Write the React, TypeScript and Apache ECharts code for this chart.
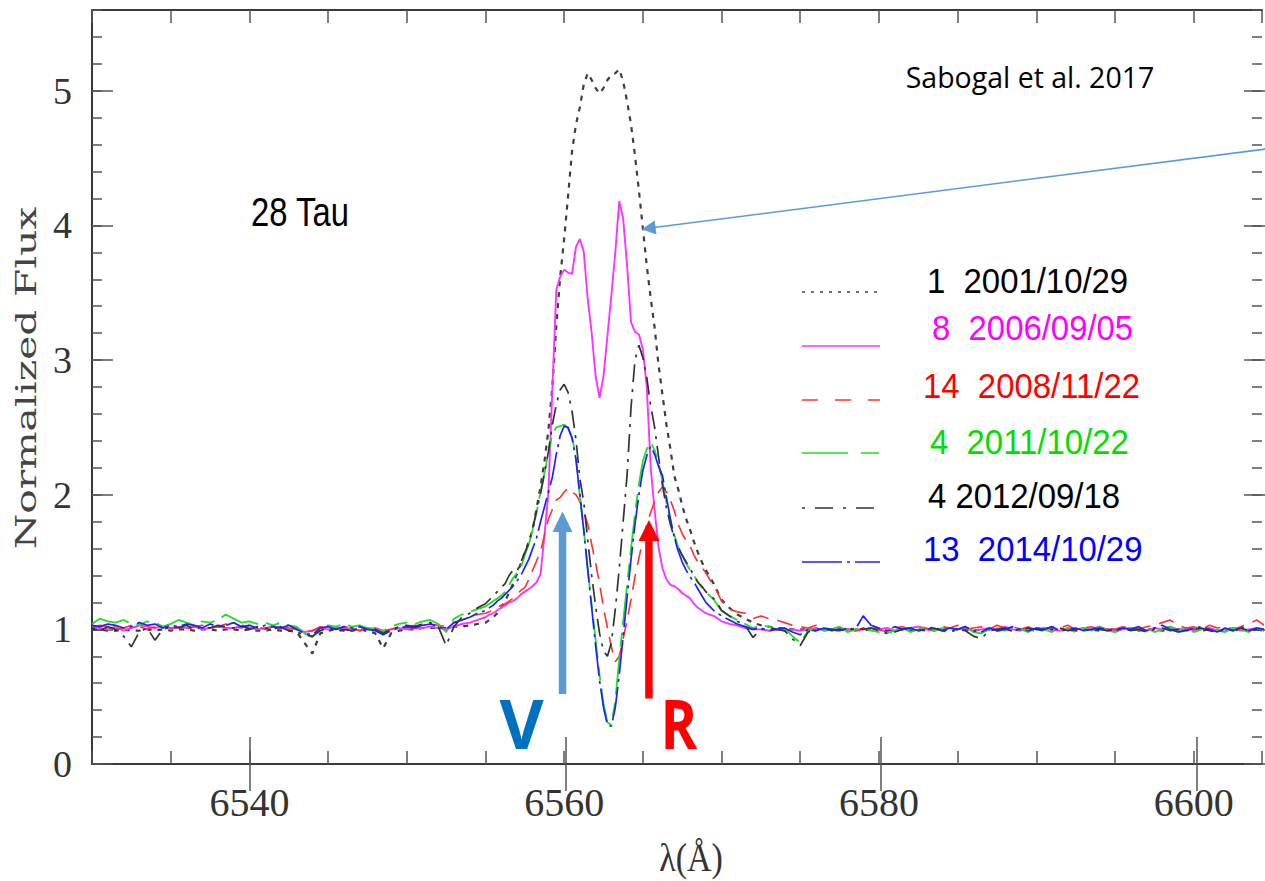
import React, { useEffect, useRef } from "react";
import * as echarts from "echarts";

// Wavelength sampling (Å): blue continuum, H-alpha core, red continuum
function sampleGrid(start: number, end: number, step: number): number[] {
  const n = Math.round((end - start) / step);
  return Array.from({ length: n + 1 }, (_, i) => +(start + i * step).toFixed(2));
}
const wavelengths: number[] = [
  ...sampleGrid(6530, 6554.5, 0.5), // 50 samples
  ...sampleGrid(6555, 6570, 0.25), // 61 samples
  ...sampleGrid(6570.5, 6604.5, 0.5), // 69 samples
];

// Normalized flux, one value per wavelength sample
const flux2001 = [
  1.00, 1.00, 0.99, 0.99, 1.00, 0.99, 0.99, 1.00, 0.99, 1.00,
  0.99, 1.00, 1.00, 0.99, 1.00, 1.00, 0.99, 1.00, 1.00, 0.99,
  1.00, 0.99, 0.99, 1.00, 0.99, 0.99, 0.98, 0.90, 0.82, 0.97,
  0.99, 1.00, 0.99, 0.99, 1.00, 0.99, 0.97, 0.86, 0.97, 0.99,
  1.00, 1.00, 1.01, 1.01, 1.01, 1.01, 1.02, 1.02, 1.03, 1.04,
  // core
  1.05, 1.07, 1.09, 1.12, 1.16, 1.21, 1.27, 1.34, 1.41, 1.49,
  1.57, 1.65, 1.74, 1.90, 2.06, 2.25, 2.48, 2.80, 3.25, 3.62,
  3.90, 4.22, 4.55, 4.75, 4.88, 5.05, 5.13, 5.08, 5.02, 4.98,
  5.02, 5.08, 5.12, 5.13, 5.16, 5.07, 4.92, 4.75, 4.52, 4.26,
  3.98, 3.70, 3.46, 3.24, 2.96, 2.74, 2.52, 2.34, 2.14, 2.04,
  1.92, 1.82, 1.74, 1.65, 1.57, 1.50, 1.44, 1.39, 1.34, 1.28,
  1.22,
  // red continuum
  1.16, 1.11, 1.08, 1.05, 1.03, 1.02, 1.01, 1.01, 1.00, 1.00,
  1.00, 0.99, 1.00, 1.00, 0.99, 1.00, 1.00, 0.99, 1.00, 1.00,
  0.99, 1.00, 1.00, 0.99, 1.00, 0.99, 1.00, 1.00, 0.99, 1.00,
  1.00, 0.99, 1.00, 1.00, 0.99, 1.00, 0.99, 1.00, 1.00, 0.99,
  1.00, 1.00, 0.99, 1.00, 0.99, 1.00, 1.00, 0.99, 1.00, 0.99,
  1.00, 1.00, 0.99, 1.00, 1.00, 0.99, 1.00, 0.99, 1.00, 1.00,
  0.99, 1.00, 0.99, 1.00, 0.99, 1.00, 0.99, 1.00, 0.99,
];

const flux2006 = [
  1.02, 1.01, 1.00, 1.02, 0.99, 1.01, 1.03, 1.02, 1.01, 1.02,
  1.00, 1.02, 1.01, 1.02, 1.00, 1.01, 1.02, 1.01, 1.01, 1.02,
  1.01, 1.00, 1.01, 1.02, 1.01, 1.00, 1.01, 0.98, 0.99, 1.01,
  1.00, 1.01, 1.00, 1.01, 0.99, 1.00, 1.01, 0.99, 1.00, 1.01,
  1.00, 1.01, 1.01, 1.02, 1.01, 1.00, 1.02, 1.04, 1.05, 1.07,
  // core
  1.09, 1.11, 1.12, 1.14, 1.16, 1.18, 1.20, 1.21, 1.23, 1.26,
  1.28, 1.30, 1.32, 1.35, 1.41, 1.70, 2.02, 2.78, 3.52, 3.62,
  3.67, 3.65, 3.64, 3.84, 3.90, 3.80, 3.45, 3.20, 2.88, 2.72,
  2.88, 3.18, 3.48, 3.80, 4.18, 4.05, 3.70, 3.28, 3.21, 3.19,
  3.08, 2.80, 2.20, 1.88, 1.61, 1.45, 1.37, 1.33, 1.32, 1.30,
  1.27, 1.25, 1.23, 1.19, 1.16, 1.14, 1.12, 1.11, 1.10, 1.08,
  1.06,
  // red continuum
  1.04, 1.03, 1.01, 1.00, 1.00, 0.99, 1.00, 0.99, 1.00, 0.99,
  1.00, 1.01, 0.99, 1.00, 1.01, 1.00, 0.99, 1.00, 1.01, 1.00,
  1.01, 0.99, 1.00, 1.01, 1.02, 1.00, 0.99, 1.00, 1.01, 1.00,
  1.01, 0.99, 1.00, 1.01, 1.00, 1.02, 1.00, 0.99, 1.01, 1.00,
  1.01, 1.00, 0.99, 1.01, 1.00, 1.01, 1.00, 1.02, 1.00, 0.99,
  1.00, 1.01, 1.00, 0.99, 1.01, 1.00, 1.02, 1.00, 1.01, 0.99,
  1.00, 1.01, 0.99, 1.00, 1.01, 0.99, 1.00, 1.01, 1.00,
];

const flux2008 = [
  1.01, 1.03, 1.02, 1.00, 1.01, 1.03, 1.02, 1.00, 1.02, 1.03,
  1.01, 1.02, 1.00, 1.02, 1.03, 1.01, 1.02, 1.04, 1.02, 1.01,
  1.03, 1.02, 1.00, 1.02, 1.03, 1.01, 1.00, 0.98, 0.99, 1.02,
  1.01, 1.00, 1.02, 1.01, 0.99, 1.01, 1.00, 0.98, 1.00, 1.02,
  1.01, 1.03, 1.02, 1.04, 1.03, 1.02, 1.05, 1.07, 1.09, 1.11,
  // core
  1.12, 1.13, 1.15, 1.16, 1.18, 1.19, 1.21, 1.23, 1.26, 1.29,
  1.31, 1.37, 1.44, 1.51, 1.58, 1.70, 1.82, 1.89, 1.96, 1.98,
  2.02, 2.05, 2.02, 2.00, 1.95, 1.87, 1.78, 1.63, 1.49, 1.34,
  1.16, 1.01, 0.87, 0.76, 0.80, 0.93, 1.07, 1.22, 1.39, 1.53,
  1.66, 1.78, 1.87, 1.95, 2.02, 2.06, 2.02, 1.96, 1.88, 1.78,
  1.71, 1.66, 1.62, 1.55, 1.50, 1.46, 1.42, 1.37, 1.33, 1.27,
  1.21,
  // red continuum
  1.15, 1.13, 1.12, 1.08, 1.10, 1.08, 1.07, 1.05, 1.03, 1.02,
  1.01, 1.03, 1.01, 1.00, 1.02, 1.01, 0.99, 1.01, 1.03, 1.00,
  0.98, 1.01, 1.02, 1.00, 1.02, 1.01, 0.99, 1.02, 1.01, 1.03,
  1.00, 1.01, 1.02, 1.00, 1.03, 1.01, 1.02, 1.00, 1.02, 1.01,
  1.00, 1.02, 1.01, 1.03, 1.00, 1.01, 1.02, 1.00, 1.01, 1.00,
  1.02, 1.01, 1.00, 1.02, 1.03, 1.05, 1.07, 1.03, 1.01, 1.02,
  1.00, 1.03, 1.01, 1.02, 1.00, 1.02, 1.04, 1.07, 1.03,
];

const flux2011 = [
  1.04, 1.08, 1.06, 1.05, 1.07, 1.04, 1.03, 1.06, 1.05, 1.02,
  1.04, 1.07, 1.05, 1.03, 1.06, 1.05, 1.07, 1.11, 1.08, 1.05,
  1.06, 1.04, 1.05, 1.03, 1.05, 1.03, 1.02, 0.97, 0.94, 1.00,
  1.03, 1.02, 1.04, 1.02, 1.03, 1.01, 1.00, 0.99, 1.02, 1.04,
  1.05, 1.04, 1.06, 1.07, 1.04, 0.98, 1.08, 1.11, 1.13, 1.15,
  // core
  1.17, 1.19, 1.21, 1.23, 1.25, 1.28, 1.33, 1.38, 1.42, 1.46,
  1.55, 1.63, 1.74, 1.87, 2.02, 2.16, 2.31, 2.45, 2.50, 2.51,
  2.52, 2.49, 2.43, 2.28, 1.98, 1.74, 1.45, 1.18, 0.92, 0.66,
  0.45, 0.31, 0.29, 0.47, 0.78, 1.06, 1.33, 1.60, 1.86, 2.08,
  2.25, 2.34, 2.39, 2.33, 2.23, 2.10, 1.94, 1.81, 1.70, 1.61,
  1.55, 1.49, 1.44, 1.40, 1.35, 1.31, 1.28, 1.25, 1.22, 1.18,
  1.14,
  // red continuum
  1.10, 1.07, 1.04, 1.01, 1.03, 1.02, 1.00, 1.01, 0.95, 0.90,
  0.99, 1.01, 0.99, 1.00, 1.02, 0.98, 1.00, 1.01, 0.99, 0.98,
  0.97, 0.99, 1.01, 0.98, 1.00, 1.02, 0.99, 1.01, 0.98, 1.00,
  1.02, 0.98, 0.97, 1.00, 1.01, 0.99, 1.02, 1.00, 0.98, 1.01,
  1.00, 0.98, 1.01, 1.00, 0.98, 1.01, 0.99, 1.02, 0.99, 0.98,
  1.00, 1.01, 0.99, 1.01, 0.98, 1.00, 1.02, 0.99, 1.01, 0.98,
  1.00, 1.01, 0.99, 0.98, 1.01, 1.00, 0.98, 1.01, 0.99,
];

const flux2012 = [
  1.01, 0.99, 1.02, 1.00, 0.95, 0.87, 0.98, 1.01, 0.92, 1.00,
  1.02, 1.01, 1.03, 1.00, 1.02, 1.01, 1.03, 1.02, 1.01, 1.03,
  1.00, 1.02, 1.01, 1.00, 1.02, 0.99, 0.98, 0.96, 0.95, 0.99,
  1.01, 0.98, 1.00, 0.99, 1.01, 0.98, 1.00, 0.97, 1.00, 1.02,
  1.03, 1.02, 1.04, 1.05, 1.02, 0.88, 1.02, 1.09, 1.12, 1.16,
  // core
  1.19, 1.22, 1.25, 1.28, 1.31, 1.34, 1.40, 1.44, 1.43, 1.50,
  1.57, 1.64, 1.75, 1.88, 2.01, 2.16, 2.32, 2.52, 2.67, 2.78,
  2.82, 2.76, 2.62, 2.41, 2.12, 1.94, 1.66, 1.40, 1.17, 0.97,
  0.84, 0.80, 0.90, 1.15, 1.45, 1.80, 2.15, 2.65, 3.00, 3.11,
  3.02, 2.87, 2.66, 2.50, 2.28, 2.07, 1.90, 1.78, 1.68, 1.61,
  1.55, 1.50, 1.45, 1.40, 1.35, 1.32, 1.28, 1.25, 1.23, 1.19,
  1.14,
  // red continuum
  1.10, 1.06, 1.03, 0.94, 1.00, 1.01, 1.00, 0.99, 0.93, 0.88,
  0.98, 1.00, 1.01, 0.99, 1.00, 0.99, 1.01, 1.00, 1.01, 0.99,
  0.97, 0.98, 1.00, 1.01, 0.99, 1.00, 1.01, 0.99, 0.98, 1.00,
  0.99, 0.95, 0.93, 0.99, 1.00, 1.01, 0.99, 1.00, 1.01, 1.00,
  0.99, 1.00, 1.01, 0.99, 1.00, 0.99, 1.01, 1.00, 0.99, 1.00,
  1.01, 0.99, 1.00, 0.98, 1.00, 1.01, 0.99, 1.00, 0.99, 1.00,
  1.01, 0.99, 0.98, 1.00, 0.99, 1.01, 0.99, 1.00, 0.99,
];

const flux2014 = [
  1.03, 1.02, 1.04, 1.03, 1.01, 1.02, 1.05, 1.03, 1.04, 1.01,
  1.03, 1.02, 1.04, 1.03, 1.01, 1.04, 1.02, 1.03, 1.05, 1.02,
  1.03, 1.01, 1.03, 1.02, 1.01, 1.03, 1.00, 0.97, 0.96, 1.01,
  1.02, 1.00, 1.02, 1.01, 1.02, 1.00, 0.99, 0.96, 0.99, 1.01,
  1.02, 1.01, 1.03, 1.04, 1.02, 1.00, 1.05, 1.07, 1.09, 1.12,
  // core
  1.14, 1.16, 1.18, 1.21, 1.23, 1.26, 1.29, 1.32, 1.36, 1.40,
  1.46, 1.52, 1.60, 1.68, 1.80, 1.91, 2.02, 2.13, 2.30, 2.44,
  2.51, 2.50, 2.42, 2.26, 2.00, 1.73, 1.44, 1.16, 0.88, 0.62,
  0.42, 0.29, 0.28, 0.42, 0.66, 0.95, 1.24, 1.52, 1.78, 2.00,
  2.18, 2.29, 2.36, 2.30, 2.21, 2.14, 1.98, 1.82, 1.68, 1.58,
  1.50, 1.44, 1.39, 1.35, 1.30, 1.25, 1.20, 1.17, 1.14, 1.12,
  1.10,
  // red continuum
  1.07, 1.04, 1.02, 1.00, 1.01, 0.99, 1.00, 1.01, 0.98, 0.96,
  1.00, 0.99, 1.01, 1.00, 0.99, 1.01, 1.00, 1.10, 1.03, 1.01,
  0.99, 1.02, 1.00, 1.01, 0.99, 1.00, 1.02, 0.99, 1.01, 1.00,
  1.02, 0.99, 0.98, 1.01, 0.99, 1.00, 1.02, 1.00, 0.99, 1.01,
  1.00, 1.02, 0.99, 1.00, 1.01, 0.99, 1.00, 1.01, 1.00, 0.99,
  1.01, 1.00, 1.02, 0.99, 1.01, 1.03, 1.00, 0.98, 0.99, 1.01,
  1.02, 1.00, 0.98, 1.01, 0.99, 1.02, 0.99, 1.01, 1.00,
];

// Observation labels (spectrum count and date)
const epochLabels = [
  "1  2001/10/29",
  "8  2006/09/05",
  "14  2008/11/22",
  "4  2011/10/22",
  "4 2012/09/18",
  "13  2014/10/29",
];
const epochFlux = [flux2001, flux2006, flux2008, flux2011, flux2012, flux2014];

// Axis ranges and ticks
const X_MIN = 6530;
const X_MAX = 6604.34;
const X_MAJOR_TICKS = [6540, 6560, 6580, 6600];
const Y_MIN = 0;
const Y_MAX = 5.6;
const Y_MAJOR_TICKS = [0, 1, 2, 3, 4, 5];

const epochStyles = [
  { color: "#3d3d3d", text: "#000000", dash: [5, 6] as any, keyDash: [3, 6], width: 2.2 },
  { color: "#ff33ff", text: "#ff00ff", dash: "solid" as any, keyDash: null, width: 1.9 },
  { color: "#ff3030", text: "#ff0000", dash: [16, 9] as any, keyDash: [16, 17], width: 1.6 },
  { color: "#22dd22", text: "#00dd00", dash: [40, 8, 14, 8] as any, keyDash: [46, 13, 18, 13], width: 1.8 },
  { color: "#333333", text: "#000000", dash: [3, 7, 18, 7] as any, keyDash: [3, 10, 18, 10], width: 1.7 },
  { color: "#2020ff", text: "#0000ff", dash: [34, 5, 3, 5] as any, keyDash: [40, 5, 3, 5], width: 1.7 },
];

const AXIS_COLOR = "#3a3a3a";
const TICK_COLOR = "#555555";
const SERIF = "'Liberation Serif', 'Times New Roman', serif";
const SANS = "'Liberation Sans', Arial, sans-serif";

function buildOption(): echarts.EChartsCoreOption {
  const gridBox = { left: 92, top: 10, right: 0, bottom: 117 };

  const minorX = (position: "top" | "bottom", labels: boolean) => ({
    gridIndex: 0,
    type: "value",
    position,
    min: X_MIN,
    max: X_MAX,
    interval: 5,
    axisLine: { show: true, onZero: false, lineStyle: { color: AXIS_COLOR, width: 2 } },
    axisTick: { show: true, inside: true, length: 13, lineStyle: { color: TICK_COLOR, width: 1.5 } },
    axisLabel: {
      show: labels,
      margin: 18,
      color: "#333",
      fontFamily: SERIF,
      fontSize: 40,
      formatter: (v: number) => (Math.round(v) % 20 === 0 && Math.abs(v - Math.round(v)) < 1e-6 ? String(Math.round(v)) : ""),
    },
    splitLine: { show: false },
  });
  const majorX = (position: "top" | "bottom") => ({
    gridIndex: 1,
    type: "value",
    position,
    min: X_MIN,
    max: X_MAX,
    axisLine: { show: false },
    axisTick: { show: true, inside: true, length: 27, customValues: X_MAJOR_TICKS, lineStyle: { color: TICK_COLOR, width: 1.5 } },
    axisLabel: { show: false },
    splitLine: { show: false },
  });
  const minorY = (position: "left" | "right", labels: boolean) => ({
    gridIndex: 0,
    type: "value",
    position,
    min: Y_MIN,
    max: Y_MAX,
    interval: 0.2,
    axisLine: { show: position === "left", onZero: false, lineStyle: { color: AXIS_COLOR, width: 2 } },
    axisTick: { show: true, inside: true, length: 10, lineStyle: { color: TICK_COLOR, width: 1.5 } },
    axisLabel: {
      show: labels,
      margin: 20,
      color: "#333",
      fontFamily: SERIF,
      fontSize: 38,
      formatter: (v: number) => (Math.abs(v - Math.round(v)) < 1e-6 ? String(Math.round(v)) : ""),
    },
    splitLine: { show: false },
  });
  const majorY = (position: "left" | "right") => ({
    gridIndex: 1,
    type: "value",
    position,
    min: Y_MIN,
    max: Y_MAX,
    axisLine: { show: false },
    axisTick: { show: true, inside: true, length: 21, customValues: Y_MAJOR_TICKS, lineStyle: { color: TICK_COLOR, width: 1.5 } },
    axisLabel: { show: false },
    splitLine: { show: false },
  });

  const series = epochFlux.map((flux, k) => ({
    name: epochLabels[k],
    type: "line",
    xAxisIndex: 0,
    yAxisIndex: 0,
    data: wavelengths.map((w, i) => [w, flux[i]]),
    showSymbol: false,
    symbol: "none",
    smooth: false,
    lineStyle: { color: epochStyles[k].color, width: epochStyles[k].width, type: epochStyles[k].dash },
    emphasis: { disabled: true },
    z: 2 + k,
  }));

  // Key: sample line plus coloured label for each epoch
  const keyLineY = [292, 346, 400, 453, 508, 562];
  const keyTextY = [281, 328, 386, 442, 496, 549];
  const keyTextX = [927, 932, 923, 930, 928, 923];
  const keyElements: any[] = [];
  epochLabels.forEach((label, k) => {
    keyElements.push({
      type: "line",
      shape: { x1: 802, y1: keyLineY[k], x2: 880, y2: keyLineY[k] },
      style: {
        stroke: epochStyles[k].color,
        lineWidth: 1.6,
        lineDash: epochStyles[k].keyDash,
      },
      z: 50,
    });
    keyElements.push({
      type: "text",
      x: keyTextX[k],
      y: keyTextY[k],
      scaleX: 0.94,
      style: {
        text: label,
        fill: epochStyles[k].text,
        fontFamily: SANS,
        fontSize: 35,
        align: "left",
        verticalAlign: "middle",
        textAlign: "left",
        textVerticalAlign: "middle",
      },
      z: 50,
    });
  });

  const centeredText = (text: string, x: number, y: number, extra: any, style: any) => ({
    type: "text",
    x,
    y,
    ...extra,
    style: {
      text,
      align: "center",
      verticalAlign: "middle",
      textAlign: "center",
      textVerticalAlign: "middle",
      ...style,
    },
    z: 60,
  });

  const graphic: any[] = [
    ...keyElements,
    centeredText("28 Tau", 300, 212, { scaleX: 0.82 }, { fill: "#000", fontFamily: SANS, fontSize: 40 }),
    centeredText("Sabogal et al. 2017", 1030, 77, { scaleX: 0.95 }, { fill: "#000", fontFamily: "'Open Sans', 'Noto Sans', sans-serif", fontSize: 30 }),
    centeredText("λ(Å)", 691, 858, { scaleX: 0.85 }, { fill: "#333", fontFamily: SERIF, fontSize: 40 }),
    centeredText("Normalized Flux", 26, 378, { rotation: Math.PI / 2, scaleX: 1.45 }, { fill: "#444", fontFamily: "'DejaVu Serif', serif", fontSize: 28 }),
    centeredText("V", 521.5, 722.5, {}, { fill: "#0070c0", fontFamily: "'Open Sans', sans-serif", fontWeight: "bold", fontSize: 68 }),
    centeredText("R", 679, 722.5, { scaleX: 0.82 }, { fill: "#ff0000", fontFamily: "'Open Sans', sans-serif", fontWeight: "bold", fontSize: 68 }),
    // violet-peak arrow
    { type: "rect", shape: { x: 558.8, y: 530, width: 7.5, height: 164 }, style: { fill: "#5b9bd5" }, z: 60 },
    { type: "polygon", shape: { points: [[562.5, 511.5], [552.5, 532], [572.5, 532]] }, style: { fill: "#5b9bd5" }, z: 60 },
    // red-peak arrow
    { type: "rect", shape: { x: 645.2, y: 539, width: 7.5, height: 159.5 }, style: { fill: "#ff0000" }, z: 60 },
    { type: "polygon", shape: { points: [[649, 520], [638.5, 541], [659.5, 541]] }, style: { fill: "#ff0000" }, z: 60 },
    // thin pointer towards the 2001 profile
    { type: "line", shape: { x1: 1266, y1: 149, x2: 654, y2: 227.6 }, style: { stroke: "#5b9bd5", lineWidth: 1.5 }, z: 60 },
    { type: "polygon", shape: { points: [[641.7, 229.3], [656.5, 234.6], [654.7, 220.6]] }, style: { fill: "#5b9bd5" }, z: 60 },
  ];

  return {
    animation: false,
    backgroundColor: "#ffffff",
    grid: [{ ...gridBox }, { ...gridBox }],
    xAxis: [minorX("bottom", true), minorX("top", false), majorX("bottom"), majorX("top")],
    yAxis: [minorY("left", true), minorY("right", false), majorY("left"), majorY("right")],
    series,
    graphic,
  };
}

export default function App() {
  const ref = useRef<HTMLDivElement>(null);
  useEffect(() => {
    if (!ref.current) return;
    const chart = echarts.init(ref.current, undefined, { renderer: "svg" });
    chart.setOption(buildOption());
    return () => chart.dispose();
  }, []);
  return (
    <div
      ref={ref}
      style={{ position: "fixed", left: 0, top: 0, width: 1265, height: 881, background: "#ffffff" }}
    />
  );
}
